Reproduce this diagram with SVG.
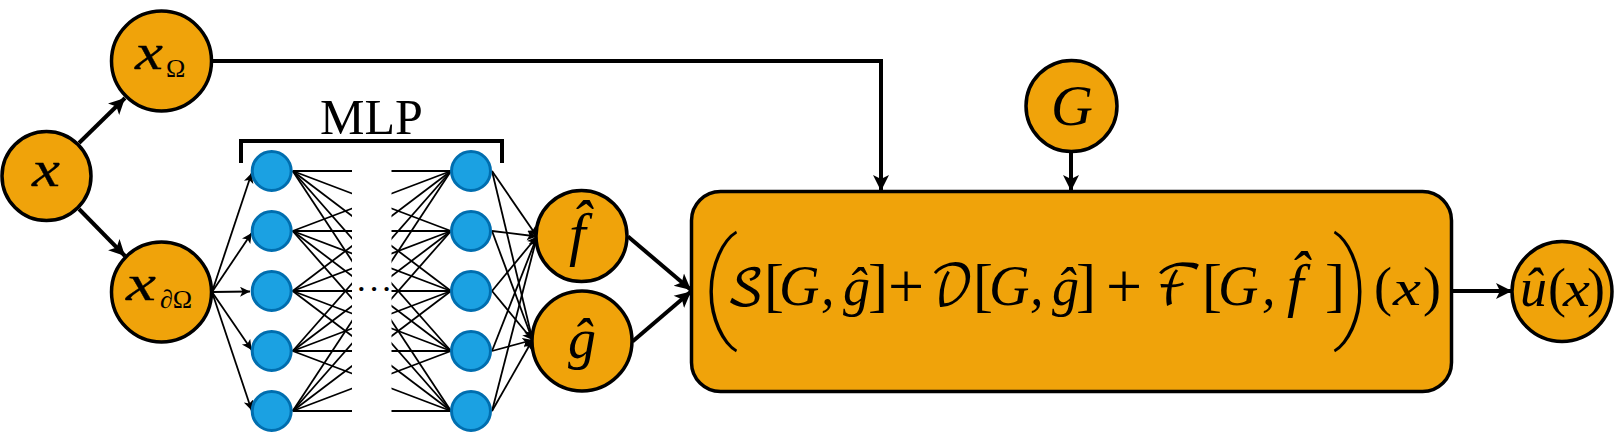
<svg xmlns="http://www.w3.org/2000/svg" width="1614" height="433" viewBox="0 0 1614 433">
<style>
.o{fill:#F0A30A;stroke:#000;stroke-width:3.5}
.b{fill:#1BA1E2;stroke:#006EAF;stroke-width:3}
.t{font-family:"Liberation Serif",serif;fill:#000}
.m{font-family:"Liberation Serif",serif;font-style:italic;fill:#000}
.v{stroke:#000;stroke-width:.3}
.c{font-family:"DejaVu Math TeX Gyre","Liberation Serif",serif;fill:#000;font-size:56px}
.p{font-family:Roboto,"Liberation Sans",sans-serif;font-weight:100;fill:#000}
.thick{fill:none;stroke:#000;stroke-width:4}
.thin{fill:none;stroke:#000;stroke-width:1.8}
.e line{stroke:#000;stroke-width:1.8}
</style>
<defs>
<marker id="big" markerUnits="userSpaceOnUse" markerWidth="20" markerHeight="20" refX="16" refY="9" orient="auto"><path d="M0 1L16 9L0 17L4 9Z" fill="#000"/></marker>
<marker id="small" markerUnits="userSpaceOnUse" markerWidth="12" markerHeight="12" refX="10" refY="5" orient="auto"><path d="M0 0L10 5L0 10L2.5 5Z" fill="#000"/></marker>
</defs>
<g id="connectors">
<g class="thick">
<path marker-end="url(#big)" d="M79 143L125 98"/>
<path marker-end="url(#big)" d="M79 209L125 256"/>
<path marker-end="url(#big)" d="M212 61H881V191"/>
<path marker-end="url(#big)" d="M1071 152V191"/>
<path marker-end="url(#big)" d="M628 236.500L691 290"/>
<path marker-end="url(#big)" d="M632.500 341.500L691 291.500"/>
<path marker-end="url(#big)" d="M1452 291H1512"/>
</g>
<g class="thin">
<path marker-end="url(#small)" d="M212 292L251.700 173"/>
<path marker-end="url(#small)" d="M212 292L251.700 233"/>
<path marker-end="url(#small)" d="M212 292L250 291.500"/>
<path marker-end="url(#small)" d="M212 292L251.700 350"/>
<path marker-end="url(#small)" d="M212 292L251.700 410.500"/>
<path marker-end="url(#small)" d="M492 171L537 236.500"/>
<path marker-end="url(#small)" d="M492 231L537 236.500"/>
<path marker-end="url(#small)" d="M492 291L537 236.500"/>
<path marker-end="url(#small)" d="M492 351L537 236.500"/>
<path marker-end="url(#small)" d="M492 411L537 236.500"/>
<path marker-end="url(#small)" d="M492 171L532.500 340"/>
<path marker-end="url(#small)" d="M492 231L532.500 340"/>
<path marker-end="url(#small)" d="M492 291L532.500 340"/>
<path marker-end="url(#small)" d="M492 351L532.500 340"/>
<path marker-end="url(#small)" d="M492 411L532.500 340"/>
</g>
<g class="e">
<line x1="292.700" y1="171" x2="451" y2="171"/><line x1="292.700" y1="171" x2="451" y2="231"/><line x1="292.700" y1="171" x2="451" y2="291"/><line x1="292.700" y1="171" x2="451" y2="351"/><line x1="292.700" y1="171" x2="451" y2="411"/>
<line x1="292.700" y1="231" x2="451" y2="171"/><line x1="292.700" y1="231" x2="451" y2="231"/><line x1="292.700" y1="231" x2="451" y2="291"/><line x1="292.700" y1="231" x2="451" y2="351"/><line x1="292.700" y1="231" x2="451" y2="411"/>
<line x1="292.700" y1="291" x2="451" y2="171"/><line x1="292.700" y1="291" x2="451" y2="231"/><line x1="292.700" y1="291" x2="451" y2="291"/><line x1="292.700" y1="291" x2="451" y2="351"/><line x1="292.700" y1="291" x2="451" y2="411"/>
<line x1="292.700" y1="351" x2="451" y2="171"/><line x1="292.700" y1="351" x2="451" y2="231"/><line x1="292.700" y1="351" x2="451" y2="291"/><line x1="292.700" y1="351" x2="451" y2="351"/><line x1="292.700" y1="351" x2="451" y2="411"/>
<line x1="292.700" y1="411" x2="451" y2="171"/><line x1="292.700" y1="411" x2="451" y2="231"/><line x1="292.700" y1="411" x2="451" y2="291"/><line x1="292.700" y1="411" x2="451" y2="351"/><line x1="292.700" y1="411" x2="451" y2="411"/>
</g>
<rect x="352" y="160" width="39.500" height="262" fill="#fff"/>
</g>
<g id="mlp-label">
<path class="thick" d="M241 163V141H502V163"/>
<text class="t" x="320" y="134" font-size="50">MLP</text>
<text class="t" x="357" y="297" font-size="26" font-weight="bold" letter-spacing="4">···</text>
</g>
<g id="node-x"><circle class="o" cx="46.500" cy="176" r="44.500"/><text class="m v" x="32" y="186" font-size="50" textLength="28" lengthAdjust="spacingAndGlyphs">x</text></g>
<g id="node-x-omega"><circle class="o" cx="161.500" cy="61" r="50"/><text class="m v" x="135" y="69" font-size="50" textLength="28" lengthAdjust="spacingAndGlyphs">x</text><text class="t" x="166" y="77" font-size="26">Ω</text></g>
<g id="node-x-boundary"><circle class="o" cx="161.500" cy="292" r="50"/><text class="m v" x="126" y="300" font-size="50" textLength="30" lengthAdjust="spacingAndGlyphs">x</text><text class="t" x="160" y="308" font-size="26">∂Ω</text></g>
<g id="hidden-left"><circle class="b" cx="271.700" cy="171" r="19.500"/><circle class="b" cx="271.700" cy="231" r="19.500"/><circle class="b" cx="271.700" cy="291" r="19.500"/><circle class="b" cx="271.700" cy="351" r="19.500"/><circle class="b" cx="271.700" cy="411" r="19.500"/></g>
<g id="hidden-right"><circle class="b" cx="471" cy="171" r="19.500"/><circle class="b" cx="471" cy="231" r="19.500"/><circle class="b" cx="471" cy="291" r="19.500"/><circle class="b" cx="471" cy="351" r="19.500"/><circle class="b" cx="471" cy="411" r="19.500"/></g>
<g id="node-f"><circle class="o" cx="581.500" cy="236" r="45.500"/><text class="m" x="569" y="254" font-size="60">f̂</text></g>
<g id="node-g"><circle class="o" cx="582" cy="341" r="50"/><text class="m" x="568" y="358" font-size="56">ĝ</text></g>
<g id="node-G"><circle class="o" cx="1071.500" cy="106" r="45.500"/><text class="m" x="1051" y="125" font-size="58">G</text></g>
<g id="operator">
<rect class="o" x="691.500" y="191.500" width="760" height="200" rx="29"/>
<text class="p" transform="translate(700 324.500) scale(1.1 1)" font-size="119">(</text>
<text class="c" x="726" y="305" style="font-size:50px">𝒮</text>
<text class="t" x="764" y="305" font-size="60">[</text>
<text class="m" x="779" y="305" font-size="56">G</text>
<text class="m" x="821" y="305" font-size="54">,</text>
<text class="m" x="843" y="305" font-size="54">ĝ</text>
<text class="t" x="868" y="305" font-size="60">]</text>
<text class="t" x="888" y="308" font-size="64">+</text>
<text class="c" x="930" y="305" textLength="44" lengthAdjust="spacingAndGlyphs">𝒟</text>
<text class="t" x="973" y="305" font-size="60">[</text>
<text class="m" x="989" y="305" font-size="56">G</text>
<text class="m" x="1030" y="305" font-size="54">,</text>
<text class="m" x="1052" y="305" font-size="54">ĝ</text>
<text class="t" x="1076" y="305" font-size="60">]</text>
<text class="t" x="1106" y="308" font-size="64">+</text>
<text class="c" x="1155" y="305" textLength="48" lengthAdjust="spacingAndGlyphs">ℱ</text>
<text class="t" x="1202" y="305" font-size="60">[</text>
<text class="m" x="1218" y="305" font-size="56">G</text>
<text class="m" x="1262" y="305" font-size="54">,</text>
<text class="m" x="1287" y="305" font-size="60">f̂</text>
<text class="t" x="1325" y="305" font-size="60">]</text>
<text class="p" transform="translate(1332 324.500) scale(1.1 1)" font-size="119">)</text>
<text class="t" x="1374" y="305" font-size="54">(</text>
<text class="m" x="1393" y="305" font-size="50" textLength="28" lengthAdjust="spacingAndGlyphs">x</text>
<text class="t" x="1423" y="305" font-size="54">)</text>
</g>
<g id="node-u"><circle class="o" cx="1562" cy="291.500" r="50"/><text class="m" x="1520" y="306" font-size="54">û</text><text class="t" x="1548" y="306" font-size="54">(</text><text class="m" x="1563" y="306" font-size="50" textLength="27" lengthAdjust="spacingAndGlyphs">x</text><text class="t" x="1587" y="306" font-size="54">)</text></g>
</svg>
